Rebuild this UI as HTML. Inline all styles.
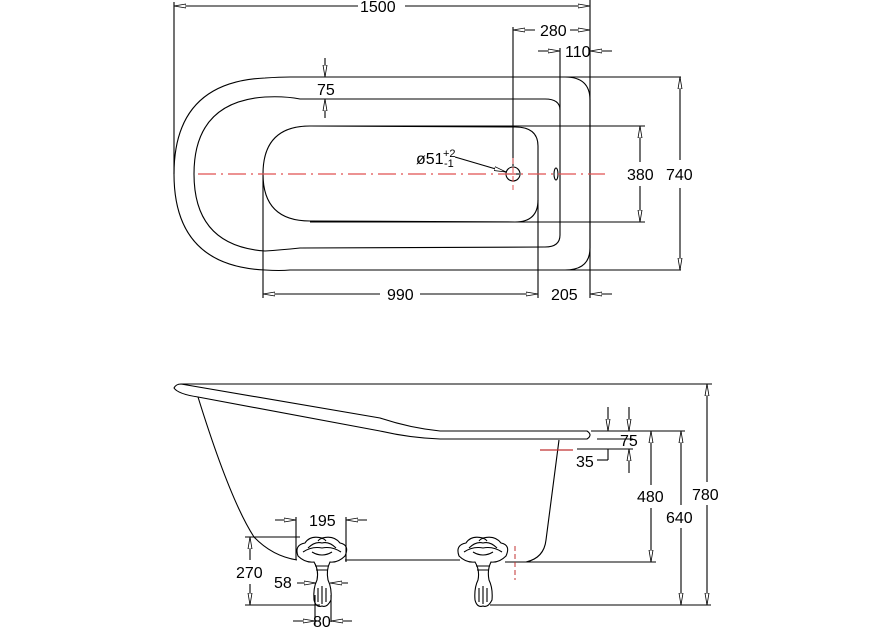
<!DOCTYPE html>
<html><head><meta charset="utf-8"><style>
html,body{margin:0;padding:0;background:#fff}
svg{display:block}
text{font-family:"Liberation Sans",sans-serif;font-size:16px;fill:#000}
</style></head><body>
<svg width="891" height="629" viewBox="0 0 891 629" xmlns="http://www.w3.org/2000/svg">
<defs>
<marker id="a" viewBox="0 0 12 6" refX="12" refY="3" markerWidth="12" markerHeight="6" markerUnits="userSpaceOnUse" orient="auto"><path d="M0,1 L12,3 L0,5 Z" fill="#fff" stroke="#000" stroke-width="0.8"/></marker>
</defs>
<g fill="none" stroke="#000" stroke-width="1.1">
<!-- TOP VIEW -->
<path d="M590,100 Q590,77 565,77 L290,77 Q280,77 265,78 Q174,82 174,174 Q174,266 265,270 Q280,271 290,270 L565,270 Q590,270 590,248 Z"/>
<path d="M560,110 Q560,99 545,99 L300,99 Q285,96 265,97 Q194,102 194,174 Q194,246 265,251 Q280,250 300,248 L545,247 Q560,247 560,235 Z"/>
<path d="M538,146 Q538,127 515,127 L310,126 Q263,126 263,174 Q263,221 310,221 L515,222 Q538,222 538,200 Z"/>
<line x1="290" y1="77" x2="681" y2="77"/>
<line x1="290" y1="270" x2="681" y2="270"/>
<line x1="310" y1="126" x2="645" y2="126"/>
<line x1="310" y1="222" x2="645" y2="222"/>
<line x1="174" y1="2" x2="174" y2="174"/>
<line x1="590" y1="0" x2="590" y2="298"/>
<line x1="513" y1="27" x2="513" y2="166"/>
<line x1="560" y1="48" x2="560" y2="110"/>
<line x1="263" y1="174" x2="263" y2="298"/>
<line x1="538" y1="200" x2="538" y2="298"/>
<line x1="200" y1="6" x2="174" y2="6" marker-end="url(#a)"/>
<line x1="200" y1="6" x2="358" y2="6"/>
<line x1="405" y1="6" x2="590" y2="6" marker-end="url(#a)"/>
<line x1="535" y1="30" x2="513" y2="30" marker-end="url(#a)"/>
<line x1="570" y1="30" x2="590" y2="30" marker-end="url(#a)"/>
<line x1="538" y1="51" x2="560" y2="51" marker-end="url(#a)"/>
<line x1="612" y1="51" x2="590" y2="51" marker-end="url(#a)"/>
<line x1="325" y1="58" x2="325" y2="77" marker-end="url(#a)"/>
<line x1="325" y1="118" x2="325" y2="99" marker-end="url(#a)"/>
<line x1="680" y1="160" x2="680" y2="77" marker-end="url(#a)"/>
<line x1="680" y1="188" x2="680" y2="270" marker-end="url(#a)"/>
<line x1="640" y1="162" x2="640" y2="126" marker-end="url(#a)"/>
<line x1="640" y1="186" x2="640" y2="222" marker-end="url(#a)"/>
<line x1="380" y1="294" x2="263" y2="294" marker-end="url(#a)"/>
<line x1="420" y1="294" x2="538" y2="294" marker-end="url(#a)"/>
<line x1="612" y1="294" x2="590" y2="294" marker-end="url(#a)"/>
<circle cx="513" cy="174" r="7"/>
<line x1="507" y1="174" x2="519" y2="174"/>
<ellipse cx="556" cy="174" rx="2" ry="6"/>
<line x1="455" y1="157" x2="506" y2="172" marker-end="url(#a)"/>
</g>
<line x1="198" y1="174" x2="605" y2="174" stroke="#e05050" stroke-width="1.2" stroke-dasharray="18,5,2,5"/>
<line x1="513" y1="158" x2="513" y2="190" stroke="#e05050" stroke-dasharray="6,3"/>
<text x="360" y="12">1500</text>
<text x="540" y="36">280</text>
<text x="565" y="57">110</text>
<text x="317" y="95">75</text>
<text x="666" y="180">740</text>
<text x="627" y="180">380</text>
<text x="387" y="300">990</text>
<text x="551" y="300">205</text>
<text x="416" y="164">ø51</text>
<text x="443" y="157" style="font-size:11px">+2</text>
<text x="444" y="167" style="font-size:11px">-1</text>

<!-- SIDE VIEW -->
<g fill="none" stroke="#000" stroke-width="1.1">
<path d="M181,384 L380,418 Q410,428 440,431 L587,431 Q593,435 587,439 L440,439 Q410,438 380,431 L198,397 Q178,394 174,388 Q176,384 181,384"/>
<line x1="181" y1="384" x2="712" y2="384"/>
<path d="M198,397 Q230,500 254,537 Q272,556 297,560"/>
<path d="M559,440 L546,540 Q544,558 526,562"/>
<line x1="345" y1="560" x2="460" y2="560"/>
<line x1="505" y1="562" x2="526" y2="562"/>
<line x1="526" y1="562" x2="656" y2="562"/>
<line x1="591" y1="431" x2="685" y2="431"/>
<line x1="490" y1="605" x2="711" y2="605"/>
<line x1="651" y1="485" x2="651" y2="431" marker-end="url(#a)"/>
<line x1="651" y1="508" x2="651" y2="562" marker-end="url(#a)"/>
<line x1="681" y1="505" x2="681" y2="431" marker-end="url(#a)"/>
<line x1="681" y1="528" x2="681" y2="605" marker-end="url(#a)"/>
<line x1="707" y1="482" x2="707" y2="384" marker-end="url(#a)"/>
<line x1="707" y1="505" x2="707" y2="605" marker-end="url(#a)"/>
<line x1="608" y1="407" x2="608" y2="431" marker-end="url(#a)"/>
<line x1="629" y1="407" x2="629" y2="431" marker-end="url(#a)"/>
<line x1="629" y1="473" x2="629" y2="449" marker-end="url(#a)"/>
<line x1="597" y1="439" x2="633" y2="439"/>
<line x1="577" y1="449" x2="633" y2="449"/>
<line x1="608" y1="449" x2="608" y2="460"/>
<line x1="597" y1="460" x2="608" y2="460"/>
<line x1="296" y1="517" x2="296" y2="560"/>
<line x1="346" y1="517" x2="346" y2="562"/>
<line x1="275" y1="520" x2="296" y2="520" marker-end="url(#a)"/>
<line x1="367" y1="520" x2="346" y2="520" marker-end="url(#a)"/>
<line x1="245" y1="537" x2="300" y2="537"/>
<line x1="245" y1="605" x2="320" y2="605"/>
<line x1="250" y1="560" x2="250" y2="537" marker-end="url(#a)"/>
<line x1="250" y1="584" x2="250" y2="605" marker-end="url(#a)"/>
<line x1="297" y1="583" x2="316" y2="583" marker-end="url(#a)"/>
<line x1="348" y1="583" x2="330" y2="583" marker-end="url(#a)"/>
<line x1="315" y1="595" x2="315" y2="625"/>
<line x1="331" y1="595" x2="331" y2="622"/>
<line x1="293" y1="621" x2="315" y2="621" marker-end="url(#a)"/>
<line x1="352" y1="621" x2="331" y2="621" marker-end="url(#a)"/>
<g id="foot">
<path d="M298,556 Q294,545 305,543 Q310,535 322,538 Q334,535 340,543 Q350,545 345,556 Q338,563 330,562 Q326,570 328,580 Q332,588 331,600 Q327,608 322,606 Q316,608 314,600 Q313,588 317,580 Q319,570 314,562 Q305,563 298,556 Z"/>
<path d="M303,552 Q312,546 322,548 Q332,546 341,552 M308,548 Q315,541 322,543 Q329,541 336,548 M318,541 Q322,536 326,541 M312,552 Q322,558 332,552 M315,566 L329,566 M316,570 L328,570 M318,588 L318,602 M322,586 L322,604 M326,588 L326,602"/>
</g>
<use href="#foot" transform="translate(161,0)"/>
</g>
<line x1="540" y1="450" x2="573" y2="450" stroke="#c03030" stroke-width="1.2"/>
<line x1="515" y1="546" x2="515" y2="580" stroke="#c03030" stroke-dasharray="5,3"/>
<text x="620" y="446">75</text>
<text x="576" y="467">35</text>
<text x="637" y="502">480</text>
<text x="666" y="523">640</text>
<text x="692" y="500">780</text>
<text x="309" y="526">195</text>
<text x="236" y="578">270</text>
<text x="274" y="588">58</text>
<text x="313" y="627">80</text>
</svg>
</body></html>
